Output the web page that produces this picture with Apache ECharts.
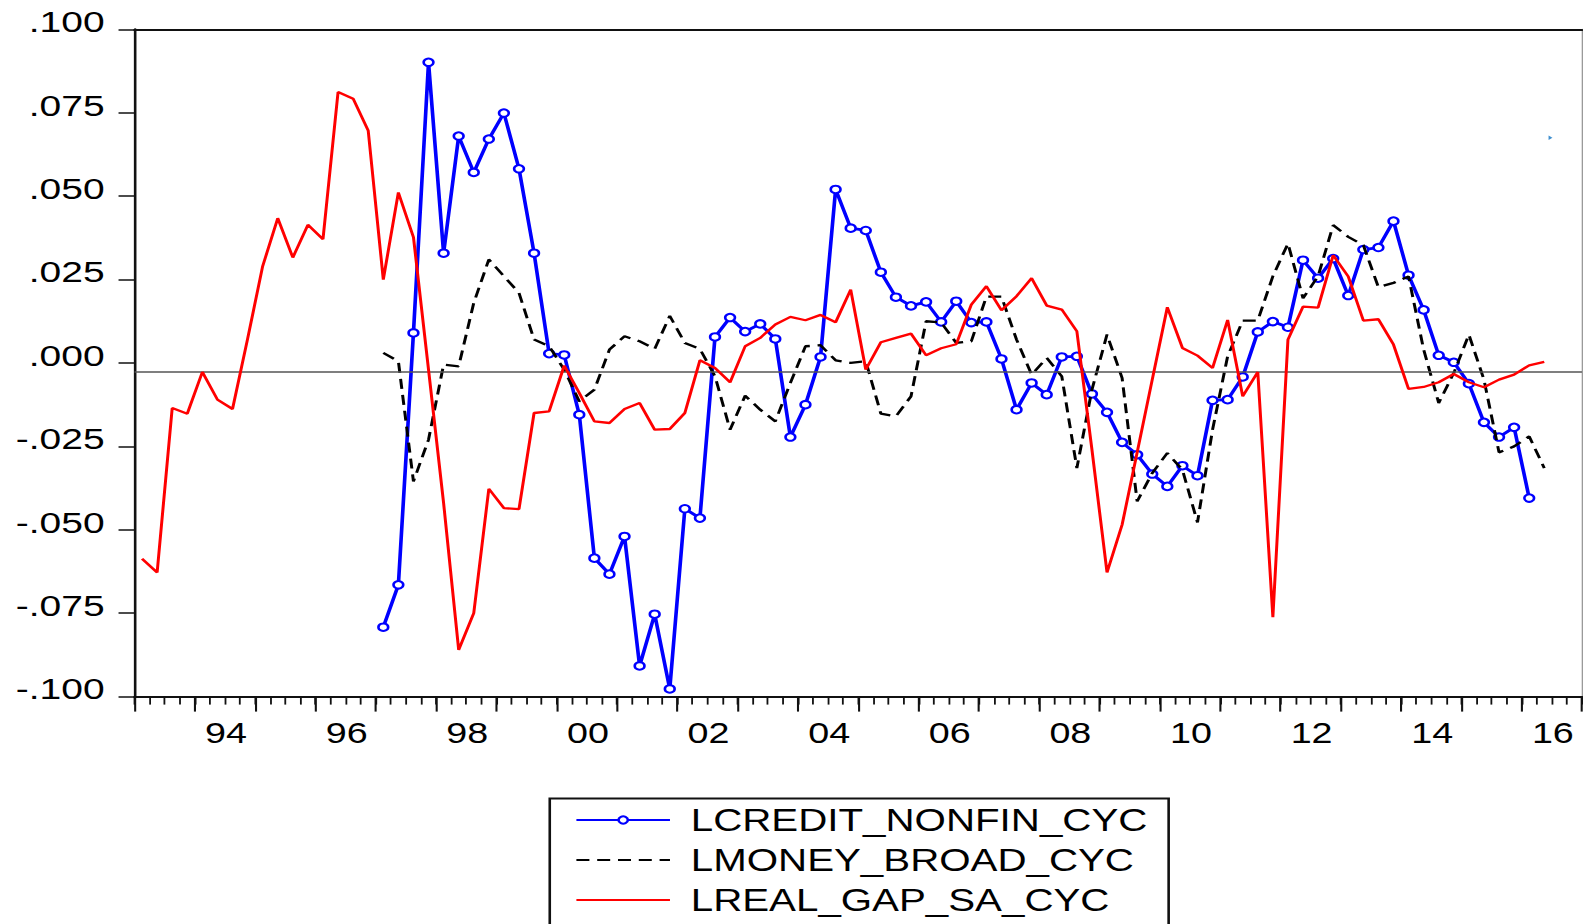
<!DOCTYPE html>
<html>
<head>
<meta charset="utf-8">
<script src="https://cdn.jsdelivr.net/npm/echarts@6/dist/echarts.min.js"></script>
<style>
html, body { margin: 0; padding: 0; background: #fff; overflow: hidden; width: 1583px; height: 924px; }
#chart { width: 1218px; height: 924px; transform: scaleX(1.29967); transform-origin: 0 0; }
</style>
</head>
<body>
<div id="chart"></div>
<script>
// ---------- data ----------
const years = [];
for (let y = 1993; y <= 2016; y++) years.push(y);
const categories = years.flatMap(y => ['Q1', 'Q2', 'Q3', 'Q4'].map(q => y + q));

const xTickLabels = ['94', '96', '98', '00', '02', '04', '06', '08', '10', '12', '14', '16'];
const yTicks = [-0.1, -0.075, -0.05, -0.025, 0, 0.025, 0.05, 0.075, 0.1];
const refLineValue = -0.0025;

const seriesNames = ['LCREDIT_NONFIN_CYC', 'LMONEY_BROAD_CYC', 'LREAL_GAP_SA_CYC'];

// LCREDIT_NONFIN_CYC : 1997Q1 .. 2016Q1
const creditStart = 16;
const creditValues = [
  -0.0792, -0.0665, 0.0090, 0.0901, 0.0329, 0.0680, 0.0571, 0.0671,
  0.0749, 0.0582, 0.0329, 0.0028, 0.0024, -0.0155, -0.0585, -0.0633,
  -0.0520, -0.0908, -0.0753, -0.0977, -0.0437, -0.0465, 0.0078, 0.0136,
  0.0094, 0.0117, 0.0072, -0.0222, -0.0125, 0.0018, 0.0520, 0.0404,
  0.0397, 0.0272, 0.0197, 0.0171, 0.0183, 0.0123, 0.0185, 0.0121,
  0.0123, 0.0012, -0.0140, -0.0060, -0.0095, 0.0018, 0.0020, -0.0093,
  -0.0148, -0.0238, -0.0275, -0.0333, -0.0370, -0.0308, -0.0338, -0.0112,
  -0.0110, -0.0042, 0.0093, 0.0124, 0.0107, 0.0308, 0.0254, 0.0313,
  0.0202, 0.0340, 0.0346, 0.0425, 0.0263, 0.0159, 0.0023, 0.0002,
  -0.0062, -0.0178, -0.0222, -0.0193, -0.0405
];

// LMONEY_BROAD_CYC : 1997Q1 .. 2016Q2
const moneyStart = 16;
const moneyValues = [
  0.0030, 0.0005, -0.0355, -0.0230, -0.0005, -0.0010, 0.0180, 0.0310,
  0.0260, 0.0210, 0.0070, 0.0050, -0.0020, -0.0115, -0.0080, 0.0040,
  0.0080, 0.0065, 0.0042, 0.0141, 0.0060, 0.0042, -0.0040, -0.0200,
  -0.0098, -0.0140, -0.0175, -0.0060, 0.0050, 0.0053, 0.0008, 0.0000,
  0.0005, -0.0152, -0.0160, -0.0100, 0.0125, 0.0121, 0.0060, 0.0065,
  0.0199, 0.0199, 0.0070, -0.0035, 0.0015, -0.0040, -0.0315, -0.0080,
  0.0085, -0.0045, -0.0415, -0.0330, -0.0270, -0.0320, -0.0478, -0.0200,
  0.0020, 0.0127, 0.0127, 0.0260, 0.0358, 0.0194, 0.0260, 0.0413,
  0.0378, 0.0353, 0.0227, 0.0240, 0.0259, 0.0040, -0.0120, -0.0030,
  0.0085, -0.0050, -0.0268, -0.0250, -0.0220, -0.0315
];

// LREAL_GAP_SA_CYC : 1993Q1 .. 2016Q2
const realGapStart = 0;
const realGapValues = [
  -0.0587, -0.0628, -0.0135, -0.0152, -0.0027, -0.0110, -0.0138, 0.0072,
  0.0290, 0.0434, 0.0316, 0.0414, 0.0371, 0.0812, 0.0792, 0.0696,
  0.0250, 0.0511, 0.0377, -0.0020, -0.0420, -0.0860, -0.0750, -0.0377,
  -0.0435, -0.0438, -0.0150, -0.0145, -0.0008, -0.0090, -0.0175, -0.0180,
  -0.0138, -0.0120, -0.0200, -0.0198, -0.0150, 0.0008, -0.0015, -0.0058,
  0.0050, 0.0075, 0.0115, 0.0138, 0.0128, 0.0144, 0.0122, 0.0220,
  -0.0020, 0.0062, 0.0075, 0.0088, 0.0023, 0.0044, 0.0056, 0.0175,
  0.0230, 0.0158, 0.0200, 0.0254, 0.0172, 0.0160, 0.0095, -0.0260,
  -0.0628, -0.0485, -0.0268, -0.0050, 0.0167, 0.0045, 0.0022, -0.0015,
  0.0129, -0.0100, -0.0027, -0.0762, 0.0070, 0.0169, 0.0166, 0.0323,
  0.0259, 0.0127, 0.0131, 0.0055, -0.0078, -0.0072, -0.0058, -0.0033,
  -0.0058, -0.0073, -0.0050, -0.0035, -0.0007, 0.0003
];

function place(start, values) {
  const out = new Array(categories.length).fill(null);
  values.forEach((v, k) => { out[start + k] = v; });
  return out;
}

const creditSeries = place(creditStart, creditValues);
const moneySeries = place(moneyStart, moneyValues);
const realGapSeries = place(realGapStart, realGapValues);

// ---------- chart ----------
const FONT = "'Liberation Sans', Arial, sans-serif";
const chart = echarts.init(document.getElementById('chart'), null, { renderer: 'svg' });

function fmtY(v) {
  const r = Math.round(v * 1000);
  return (r < 0 ? '-' : '') + '.' + String(Math.abs(r)).padStart(3, '0');
}

const grid = { left: 103.5, right: 0.8, top: 29.3, bottom: 227.4 };

chart.setOption({
  animation: false,
  backgroundColor: '#ffffff',
  grid: grid,
  xAxis: [
    {
      type: 'category', data: categories, position: 'bottom', boundaryGap: true,
      axisLine: { show: true, onZero: false, lineStyle: { color: '#111', width: 2 } },
      axisTick: { show: true, interval: 0, length: 8, lineStyle: { color: '#111', width: 1.4 } },
      axisLabel: {
        show: true,
        interval: (idx) => idx % 8 === 6,
        formatter: (val, idx) => xTickLabels[(idx - 6) / 8],
        fontFamily: FONT, fontSize: 29, color: '#000', margin: 22,
        padding: [0, 10, 0, 0]
      },
      splitLine: { show: false }
    },
    {
      type: 'category', data: categories, position: 'bottom', boundaryGap: true,
      axisLine: { show: false, onZero: false },
      axisTick: { show: true, interval: (idx) => idx % 4 === 0, length: 15, lineStyle: { color: '#111', width: 1.6 } },
      axisLabel: { show: false },
      splitLine: { show: false }
    },
    {
      type: 'category', data: categories, position: 'top', boundaryGap: true,
      axisLine: { show: true, onZero: false, lineStyle: { color: '#111', width: 2 } },
      axisTick: { show: false }, axisLabel: { show: false }, splitLine: { show: false }
    }
  ],
  yAxis: [
    {
      type: 'value', min: yTicks[0], max: yTicks[yTicks.length - 1], interval: 0.025, position: 'left',
      axisLine: { show: true, onZero: false, lineStyle: { color: '#111', width: 2 } },
      axisTick: { show: true, length: 12.3, lineStyle: { color: '#111', width: 1.5 } },
      axisLabel: {
        formatter: fmtY, fontFamily: FONT, fontSize: 30, color: '#000', margin: 23,
        verticalAlign: 'bottom', lineHeight: 15
      },
      splitLine: { show: false }
    },
    {
      type: 'value', min: yTicks[0], max: yTicks[yTicks.length - 1], interval: 0.025, position: 'right',
      axisLine: { show: true, onZero: false, lineStyle: { color: '#9a9a9a', width: 1 } },
      axisTick: { show: false }, axisLabel: { show: false }, splitLine: { show: false }
    }
  ],
  legend: {
    orient: 'vertical',
    left: 423, top: 798.6, height: 300,
    padding: [5.4, 16.3, 60, 19.5],
    itemWidth: 72, itemHeight: 9, itemGap: 8,
    borderColor: '#111', borderWidth: 2, backgroundColor: '#fff',
    selectedMode: false,
    textStyle: { fontFamily: FONT, fontSize: 31, color: '#000', lineHeight: 32, padding: [0, 0, 0, 11] },
    data: [
      { name: seriesNames[0] },
      { name: seriesNames[1], itemStyle: { opacity: 0 } },
      { name: seriesNames[2], itemStyle: { opacity: 0 } }
    ]
  },
  graphic: [
    { type: 'polygon', left: 1191.5, top: 135.5, shape: { points: [[0, 0], [3, 2.2], [0, 4.4]] }, style: { fill: '#3f8fcf' }, silent: true }
  ],
  series: [
    {
      name: seriesNames[0], type: 'line', data: creditSeries,
      xAxisIndex: 0, yAxisIndex: 0,
      symbol: 'emptyCircle', symbolSize: 7.5, showSymbol: true,
      itemStyle: { color: '#0000ff', borderWidth: 1.6 },
      lineStyle: { color: '#0000ff', width: 2.8 },
      markLine: {
        silent: true, precision: 6, symbol: ['none', 'none'], label: { show: false },
        lineStyle: { color: '#555', width: 1.6, type: 'solid' },
        data: [{ yAxis: refLineValue }]
      },
      z: 3
    },
    {
      name: seriesNames[1], type: 'line', data: moneySeries,
      xAxisIndex: 0, yAxisIndex: 0,
      symbol: 'none', showSymbol: false,
      itemStyle: { color: '#000' },
      lineStyle: { color: '#000', width: 2.3, type: [10, 6] },
      z: 4
    },
    {
      name: seriesNames[2], type: 'line', data: realGapSeries,
      xAxisIndex: 0, yAxisIndex: 0,
      symbol: 'none', showSymbol: false,
      itemStyle: { color: '#ff0000' },
      lineStyle: { color: '#ff0000', width: 2.3 },
      z: 5
    }
  ]
});
</script>
</body>
</html>
